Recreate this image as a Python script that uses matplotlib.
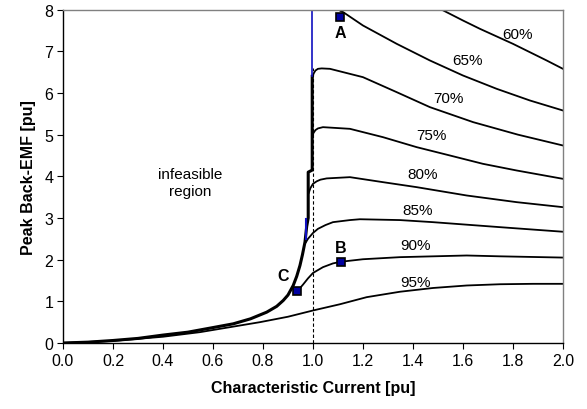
import matplotlib
matplotlib.use("Agg")
import matplotlib.pyplot as plt

plt.rcParams['font.family'] = ['Liberation Sans', 'DejaVu Sans']

# Feasibility boundary (thick)
bound_x = [0, 0.1, 0.2, 0.3, 0.4, 0.5, 0.6, 0.681, 0.75, 0.815, 0.855, 0.881, 0.9, 0.921, 0.935,
           0.948, 0.958, 0.968, 0.975, 0.981, 0.981, 0.997, 0.997]
bound_y = [0, 0.02, 0.06, 0.11, 0.19, 0.26, 0.37, 0.46, 0.58, 0.74, 0.88, 1.02, 1.15, 1.38, 1.6,
           1.86, 2.12, 2.42, 2.8, 3.0, 4.1, 4.15, 6.4]
blue_top_x = [0.997, 0.997]
blue_top_y = [6.4, 8.0]
blue_seg_x = [0.974, 0.974]
blue_seg_y = [2.5, 2.98]

# Efficiency contours
c60_x = [1.515, 1.6, 1.668, 1.8, 1.935, 2.0]
c60_y = [8.0, 7.74, 7.54, 7.18, 6.78, 6.58]
c65_x = [1.11, 1.121, 1.2, 1.335, 1.468, 1.6, 1.735, 1.868, 2.0]
c65_y = [7.97, 7.94, 7.62, 7.18, 6.78, 6.42, 6.1, 5.82, 5.58]
c70_x = [0.998, 1.002, 1.01, 1.02, 1.035, 1.068, 1.2, 1.335, 1.468, 1.641, 1.82, 2.0]
c70_y = [6.35, 6.46, 6.54, 6.58, 6.59, 6.58, 6.38, 6.02, 5.66, 5.3, 5.0, 4.74]
c75_x = [0.998, 1.002, 1.01, 1.02, 1.04, 1.148, 1.28, 1.415, 1.548, 1.68, 1.815, 2.0]
c75_y = [4.95, 5.04, 5.11, 5.15, 5.18, 5.14, 4.94, 4.7, 4.5, 4.3, 4.14, 3.94]
c80_x = [0.983, 0.99, 1.0, 1.015, 1.03, 1.055, 1.148, 1.28, 1.415, 1.615, 1.815, 2.0]
c80_y = [3.6, 3.72, 3.82, 3.88, 3.92, 3.95, 3.98, 3.86, 3.74, 3.54, 3.38, 3.26]
c85_x = [0.972, 0.98, 0.99, 1.0, 1.02, 1.05, 1.08, 1.148, 1.188, 1.348, 1.48, 1.748, 2.0]
c85_y = [2.42, 2.5, 2.57, 2.64, 2.74, 2.83, 2.9, 2.95, 2.97, 2.95, 2.9, 2.78, 2.67]
c90_x = [0.937, 0.96, 0.98, 1.0, 1.04, 1.08, 1.112, 1.2, 1.348, 1.615, 1.748, 2.0]
c90_y = [1.24, 1.4, 1.55, 1.68, 1.82, 1.91, 1.95, 2.01, 2.06, 2.1, 2.08, 2.05]
c95_x = [0, 0.2, 0.4, 0.548, 0.588, 0.788, 0.9, 1.0, 1.108, 1.215, 1.348, 1.48, 1.615, 1.748, 1.88, 2.0]
c95_y = [0, 0.05, 0.15, 0.26, 0.3, 0.5, 0.63, 0.78, 0.93, 1.1, 1.23, 1.32, 1.38, 1.41, 1.42, 1.42]

contours = [(c60_x, c60_y), (c65_x, c65_y), (c70_x, c70_y), (c75_x, c75_y),
            (c80_x, c80_y), (c85_x, c85_y), (c90_x, c90_y), (c95_x, c95_y)]

label_text = ["60%", "65%", "70%", "75%", "80%", "85%", "90%", "95%"]
label_x = [1.82, 1.62, 1.54, 1.475, 1.44, 1.42, 1.41, 1.41]
label_y = [7.42, 6.78, 5.88, 4.98, 4.06, 3.2, 2.34, 1.46]

pt_names = ["A", "B", "C"]
pt_x = [1.11, 1.112, 0.937]
pt_y = [7.82, 1.95, 1.24]
pt_lab_x = [1.11, 1.112, 0.88]
pt_lab_y = [7.45, 2.3, 1.62]

x_ticks = [0.0, 0.2, 0.4, 0.6, 0.8, 1.0, 1.2, 1.4, 1.6, 1.8, 2.0]
y_ticks = [0, 1, 2, 3, 4, 5, 6, 7, 8]

fig = plt.figure(figsize=(5.87, 4.10), dpi=100)
ax = fig.add_axes([0.1073, 0.161, 0.8517, 0.813])

ax.plot([1.0, 1.0], [0, 6.6], color='black', lw=0.8, ls=(0, (3, 2)))
for cx, cy in contours:
    ax.plot(cx, cy, color='black', lw=1.3, solid_joinstyle='round')
ax.plot(bound_x, bound_y, color='black', lw=2.2, solid_joinstyle='round')
ax.plot(blue_top_x, blue_top_y, color='#1010c0', lw=1.2)
ax.plot(blue_seg_x, blue_seg_y, color='#1010c0', lw=1.5)

for t, lx, ly in zip(label_text, label_x, label_y):
    ax.text(lx, ly, t, fontsize=11, ha='center', va='center')

ax.plot(pt_x, pt_y, ls='none', marker='s', markersize=6,
        markerfacecolor='#0000a0', markeredgecolor='black', markeredgewidth=1.2, zorder=5, clip_on=False)
for n, lx, ly in zip(pt_names, pt_lab_x, pt_lab_y):
    ax.text(lx, ly, n, fontsize=11.5, fontweight='bold', ha='center', va='center')

ax.text(0.51, 3.86, "infeasible\nregion", fontsize=11, ha='center', va='center', linespacing=1.25)

ax.set_xlim(0, 2.0)
ax.set_ylim(0, 8)
ax.set_xticks(x_ticks)
ax.set_xticklabels([f"{v:.1f}" for v in x_ticks])
ax.set_yticks(y_ticks)
ax.tick_params(direction='out', length=4, width=0.8, labelsize=11.5, colors='black', pad=3)
ax.spines['top'].set_color('#808080')
ax.spines['right'].set_color('#808080')
for s in ax.spines.values():
    s.set_linewidth(1.0)

ax.set_xlabel("Characteristic Current [pu]", fontsize=11.5, fontweight='bold', labelpad=9)
ax.set_ylabel("Peak Back-EMF [pu]", fontsize=11.5, fontweight='bold', labelpad=6)

fig.savefig("out.png", dpi=100)
